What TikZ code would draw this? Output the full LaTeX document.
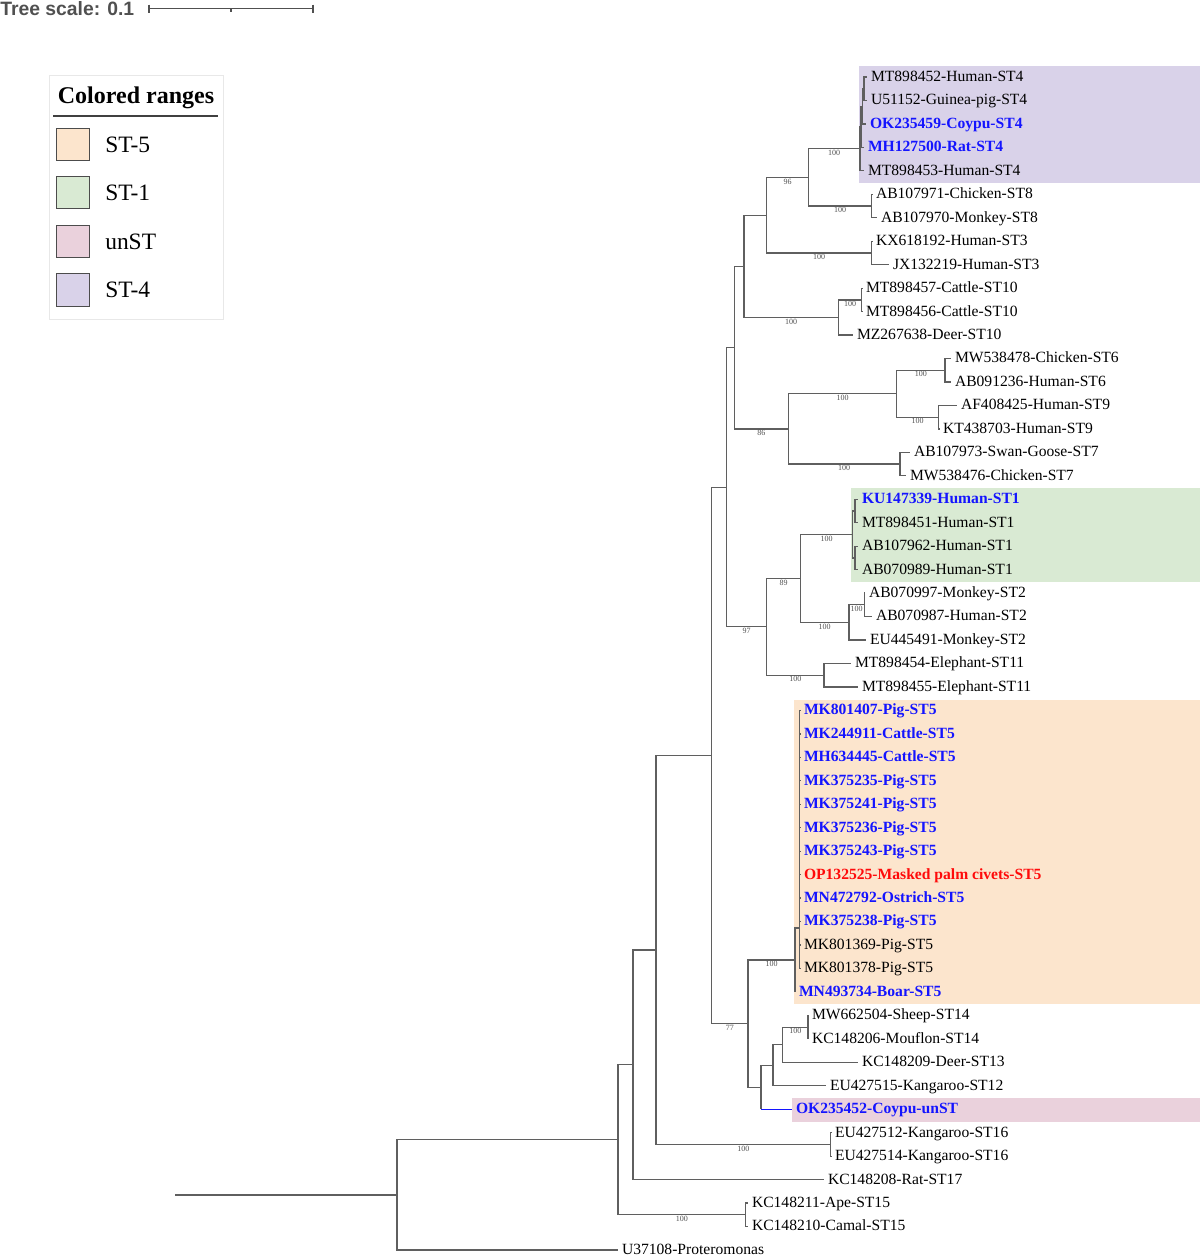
\documentclass[tikz,border=0pt]{standalone}
\usepackage{fontspec}
\setmainfont{Liberation Serif}
\newfontfamily\sansf{Liberation Sans}
\definecolor{treegray}{RGB}{95,95,95}
\definecolor{bootgray}{RGB}{80,80,80}
\definecolor{scalegray}{RGB}{80,80,80}
\definecolor{rSTfour}{HTML}{D9D2E9}
\definecolor{rSTone}{HTML}{D9EAD3}
\definecolor{rSTfive}{HTML}{FCE5CD}
\definecolor{rUN}{HTML}{EAD1DC}
\definecolor{tipblue}{RGB}{20,20,255}
\definecolor{tipred}{RGB}{255,10,10}
\tikzset{
  branch/.style={draw=treegray, line width=0.95pt},
  leaf/.style={anchor=west, inner xsep=3pt, inner ysep=0pt, outer sep=0pt,
    text height=0.66em, text depth=0pt, font=\fontsize{11.7}{14}\selectfont},
  hlb/.style={leaf, text=tipblue, font=\fontsize{11.7}{14}\selectfont\bfseries},
  hlr/.style={leaf, text=tipred, font=\fontsize{11.7}{14}\selectfont\bfseries},
  boot/.style={anchor=north, inner sep=0pt, outer sep=0pt, yshift=-1pt,
    font=\fontsize{6}{7}\selectfont, text=bootgray},
  swatch/.style={draw=black!70, line width=0.7pt},
  legtext/.style={anchor=base west, inner sep=0pt, font=\fontsize{17.6}{20}\selectfont},
}
\begin{document}
\begin{tikzpicture}[x=0.75pt, y=-0.75pt]
\useasboundingbox (0,0) rectangle (1200,1256);

% ---------- coloured ranges ----------
\fill[rSTfour] (859,66) rectangle (1200,183);
\fill[rSTone] (851,488) rectangle (1200,582);
\fill[rSTfive] (794,700) rectangle (1200,1004);
\fill[rUN] (792,1098) rectangle (1200,1122);

% ---------- tree scale ----------
\node[anchor=base west, inner sep=0pt, text=scalegray, font=\sansf\bfseries\fontsize{14.5}{16}\selectfont] (tscale) at (0,15.5) {Tree scale: 0.1};
\coordinate (sbA) at (149,8.7);
\coordinate (sbB) at (313,8.7);
\coordinate (sbM) at (231,8.7);
\draw[scalegray, line width=0.95pt] (sbA) -- (sbB);
\draw[scalegray, line width=0.95pt] ([yshift=3pt]sbA) -- ([yshift=-3pt]sbA);
\draw[scalegray, line width=0.95pt] ([yshift=3pt]sbB) -- ([yshift=-3pt]sbB);
\draw[scalegray, line width=0.95pt] (sbM) -- ([yshift=-2.2pt]sbM);

% ---------- legend ----------
\draw[draw=black!9, line width=0.5pt] (49,75) rectangle (223,319);
\node[anchor=base, inner sep=0pt, font=\bfseries\fontsize{18}{21}\selectfont] (legtitle) at (136,103.5) {Colored ranges};
\draw[black!75, line width=0.8pt] (53.3,116) -- (218.3,116);
\draw[swatch, fill=rSTfive] (56.7,128.3) rectangle (89.3,160.5);
\draw[swatch, fill=rSTone] (56.7,176.3) rectangle (89.3,208.5);
\draw[swatch, fill=rUN] (56.7,225) rectangle (89.3,257.3);
\draw[swatch, fill=rSTfour] (56.7,273.3) rectangle (89.3,306);
\node[legtext] (lg1) at (105,152.7) {ST-5};
\node[legtext] (lg2) at (105,200.7) {ST-1};
\node[legtext] (lg3) at (105,249.3) {unST};
\node[legtext] (lg4) at (105,297.3) {ST-4};

% ---------- leaves ----------
\node[leaf] (l1) at (867,77.00) {MT898452-Human-ST4};
\node[leaf] (l2) at (867,100.46) {U51152-Guinea-pig-ST4};
\node[hlb] (l3) at (866,123.92) {OK235459-Coypu-ST4};
\node[hlb] (l4) at (864,147.38) {MH127500-Rat-ST4};
\node[leaf] (l5) at (864,170.84) {MT898453-Human-ST4};
\node[leaf] (l6) at (872,194.30) {AB107971-Chicken-ST8};
\node[leaf] (l7) at (877,217.76) {AB107970-Monkey-ST8};
\node[leaf] (l8) at (872,241.22) {KX618192-Human-ST3};
\node[leaf] (l9) at (889,264.68) {JX132219-Human-ST3};
\node[leaf] (l10) at (862,288.14) {MT898457-Cattle-ST10};
\node[leaf] (l11) at (862,311.60) {MT898456-Cattle-ST10};
\node[leaf] (l12) at (853,335.06) {MZ267638-Deer-ST10};
\node[leaf] (l13) at (951,358.52) {MW538478-Chicken-ST6};
\node[leaf] (l14) at (951,381.98) {AB091236-Human-ST6};
\node[leaf] (l15) at (957,405.44) {AF408425-Human-ST9};
\node[leaf] (l16) at (939,428.90) {KT438703-Human-ST9};
\node[leaf] (l17) at (910,452.36) {AB107973-Swan-Goose-ST7};
\node[leaf] (l18) at (906,475.82) {MW538476-Chicken-ST7};
\node[hlb] (l19) at (858,499.28) {KU147339-Human-ST1};
\node[leaf] (l20) at (858,522.74) {MT898451-Human-ST1};
\node[leaf] (l21) at (858,546.20) {AB107962-Human-ST1};
\node[leaf] (l22) at (858,569.66) {AB070989-Human-ST1};
\node[leaf] (l23) at (865,593.12) {AB070997-Monkey-ST2};
\node[leaf] (l24) at (872,616.58) {AB070987-Human-ST2};
\node[leaf] (l25) at (866,640.04) {EU445491-Monkey-ST2};
\node[leaf] (l26) at (851,663.50) {MT898454-Elephant-ST11};
\node[leaf] (l27) at (858,686.96) {MT898455-Elephant-ST11};
\node[hlb] (l28) at (800,710.42) {MK801407-Pig-ST5};
\node[hlb] (l29) at (800,733.88) {MK244911-Cattle-ST5};
\node[hlb] (l30) at (800,757.34) {MH634445-Cattle-ST5};
\node[hlb] (l31) at (800,780.80) {MK375235-Pig-ST5};
\node[hlb] (l32) at (800,804.26) {MK375241-Pig-ST5};
\node[hlb] (l33) at (800,827.72) {MK375236-Pig-ST5};
\node[hlb] (l34) at (800,851.18) {MK375243-Pig-ST5};
\node[hlr] (l35) at (800,874.64) {OP132525-Masked palm civets-ST5};
\node[hlb] (l36) at (800,898.10) {MN472792-Ostrich-ST5};
\node[hlb] (l37) at (800,921.56) {MK375238-Pig-ST5};
\node[leaf] (l38) at (800,945.02) {MK801369-Pig-ST5};
\node[leaf] (l39) at (800,968.48) {MK801378-Pig-ST5};
\node[hlb] (l40) at (795,991.94) {MN493734-Boar-ST5};
\node[leaf] (l41) at (808,1015.40) {MW662504-Sheep-ST14};
\node[leaf] (l42) at (808,1038.86) {KC148206-Mouflon-ST14};
\node[leaf] (l43) at (858,1062.32) {KC148209-Deer-ST13};
\node[leaf] (l44) at (826,1085.78) {EU427515-Kangaroo-ST12};
\node[hlb] (l45) at (792,1109.24) {OK235452-Coypu-unST};
\node[leaf] (l46) at (831,1132.70) {EU427512-Kangaroo-ST16};
\node[leaf] (l47) at (831,1156.16) {EU427514-Kangaroo-ST16};
\node[leaf] (l48) at (824,1179.62) {KC148208-Rat-ST17};
\node[leaf] (l49) at (748,1203.08) {KC148211-Ape-ST15};
\node[leaf] (l50) at (748,1226.54) {KC148210-Camal-ST15};
\node[leaf] (l51) at (618,1250.00) {U37108-Proteromonas};

% ---------- internal nodes ----------
\coordinate (s4a) at (864,88.73);
\coordinate (s4b) at (862.3,106.33);
\coordinate (s4c) at (861,126.86);
\coordinate (s4) at (860,148.85);
\coordinate (st8) at (871.7,206.03);
\coordinate (nM) at (808.3,177.44);
\coordinate (st3) at (871.7,252.95);
\coordinate (nL) at (766.7,215.2);
\coordinate (st10in) at (861.7,299.87);
\coordinate (st10) at (838.3,317.47);
\coordinate (nK) at (744,266.33);
\coordinate (st6) at (945,370.25);
\coordinate (st9) at (938.7,417.17);
\coordinate (st69) at (896.7,393.71);
\coordinate (st7) at (900,464.09);
\coordinate (nQ) at (788.3,428.9);
\coordinate (nI) at (734.3,347.62);
\coordinate (st1a) at (855,511.01);
\coordinate (st1b) at (855,557.93);
\coordinate (st1) at (852.7,534.47);
\coordinate (st2in) at (864.3,604.85);
\coordinate (st2) at (849,622.45);
\coordinate (nN) at (800.3,578.46);
\coordinate (st11) at (824,675.23);
\coordinate (nJ) at (766.7,626.85);
\coordinate (nH) at (726.7,487.23);
\coordinate (s5in) at (799.5,928);
\coordinate (st5) at (795,959.97);
\coordinate (st14) at (808,1027.13);
\coordinate (nP) at (782.5,1044.73);
\coordinate (nG) at (773,1065.25);
\coordinate (nF) at (761,1087.25);
\coordinate (nE) at (748,1023.61);
\coordinate (nD) at (711.7,755.42);
\coordinate (st16) at (830.6,1144.43);
\coordinate (nC) at (656,949.93);
\coordinate (nB) at (633,1064.78);
\coordinate (st15) at (745.7,1214.81);
\coordinate (nA) at (618,1139.8);
\coordinate (nR) at (397,1194.9);
\coordinate (rootstart) at (175,1194.9);

% ---------- branches ----------
\draw[branch] (s4a) |- (l1.west);
\draw[branch] (s4a) |- (l2.west);
\draw[branch] (s4b) |- (s4a);
\draw[branch] (s4b) |- (l3.west);
\draw[branch] (s4c) |- (s4b);
\draw[branch] (s4c) |- (l4.west);
\draw[branch] (s4) |- (s4c);
\draw[branch] (s4) |- (l5.west);
\draw[branch] (st8) |- (l6.west);
\draw[branch] (st8) |- (l7.west);
\draw[branch] (nM) |- node[boot,pos=0.75]{100} (s4);
\draw[branch] (nM) |- node[boot,pos=0.75]{100} (st8);
\draw[branch] (st3) |- (l8.west);
\draw[branch] (st3) |- (l9.west);
\draw[branch] (nL) |- node[boot,pos=0.75]{96} (nM);
\draw[branch] (nL) |- node[boot,pos=0.75]{100} (st3);
\draw[branch] (st10in) |- (l10.west);
\draw[branch] (st10in) |- (l11.west);
\draw[branch] (st10) |- node[boot,pos=0.75]{100} (st10in);
\draw[branch] (st10) |- (l12.west);
\draw[branch] (nK) |- (nL);
\draw[branch] (nK) |- node[boot,pos=0.75]{100} (st10);
\draw[branch] (st6) |- (l13.west);
\draw[branch] (st6) |- (l14.west);
\draw[branch] (st9) |- (l15.west);
\draw[branch] (st9) |- (l16.west);
\draw[branch] (st69) |- node[boot,pos=0.75]{100} (st6);
\draw[branch] (st69) |- node[boot,pos=0.75]{100} (st9);
\draw[branch] (st7) |- (l17.west);
\draw[branch] (st7) |- (l18.west);
\draw[branch] (nQ) |- node[boot,pos=0.75]{100} (st69);
\draw[branch] (nQ) |- node[boot,pos=0.75]{100} (st7);
\draw[branch] (nI) |- (nK);
\draw[branch] (nI) |- node[boot,pos=0.75]{86} (nQ);
\draw[branch] (st1a) |- (l19.west);
\draw[branch] (st1a) |- (l20.west);
\draw[branch] (st1b) |- (l21.west);
\draw[branch] (st1b) |- (l22.west);
\draw[branch] (st1) |- (st1a);
\draw[branch] (st1) |- (st1b);
\draw[branch] (st2in) |- (l23.west);
\draw[branch] (st2in) |- (l24.west);
\draw[branch] (st2) |- node[boot,pos=0.75]{100} (st2in);
\draw[branch] (st2) |- (l25.west);
\draw[branch] (nN) |- node[boot,pos=0.75]{100} (st1);
\draw[branch] (nN) |- node[boot,pos=0.75]{100} (st2);
\draw[branch] (st11) |- (l26.west);
\draw[branch] (st11) |- (l27.west);
\draw[branch] (nJ) |- node[boot,pos=0.75]{89} (nN);
\draw[branch] (nJ) |- node[boot,pos=0.75]{100} (st11);
\draw[branch] (nH) |- (nI);
\draw[branch] (nH) |- node[boot,pos=0.75]{97} (nJ);
\foreach \k in {28,...,39} {\draw[branch] (s5in) |- (l\k.west);}
\draw[branch] (st5) |- (s5in);
\draw[branch] (st5) |- (l40.west);
\draw[branch] (st14) |- (l41.west);
\draw[branch] (st14) |- (l42.west);
\draw[branch] (nP) |- node[boot,pos=0.75]{100} (st14);
\draw[branch] (nP) |- (l43.west);
\draw[branch] (nG) |- (nP);
\draw[branch] (nG) |- (l44.west);
\draw[branch] (nF) |- (nG);
\draw[branch] (nF) |- (nF |- l45.west);
\draw[tipblue, line width=0.95pt] (nF |- l45.west) -- (l45.west);
\draw[branch] (nE) |- node[boot,pos=0.75]{100} (st5);
\draw[branch] (nE) |- (nF);
\draw[branch] (nD) |- (nH);
\draw[branch] (nD) |- node[boot,pos=0.75]{77} (nE);
\draw[branch] (st16) |- (l46.west);
\draw[branch] (st16) |- (l47.west);
\draw[branch] (nC) |- (nD);
\draw[branch] (nC) |- node[boot,pos=0.75]{100} (st16);
\draw[branch] (nB) |- (nC);
\draw[branch] (nB) |- (l48.west);
\draw[branch] (st15) |- (l49.west);
\draw[branch] (st15) |- (l50.west);
\draw[branch] (nA) |- (nB);
\draw[branch] (nA) |- node[boot,pos=0.75]{100} (st15);
\draw[branch] (nR) |- (nA);
\draw[branch] (nR) |- (l51.west);
\draw[branch] (rootstart) -- (nR);
\end{tikzpicture}
\end{document}
